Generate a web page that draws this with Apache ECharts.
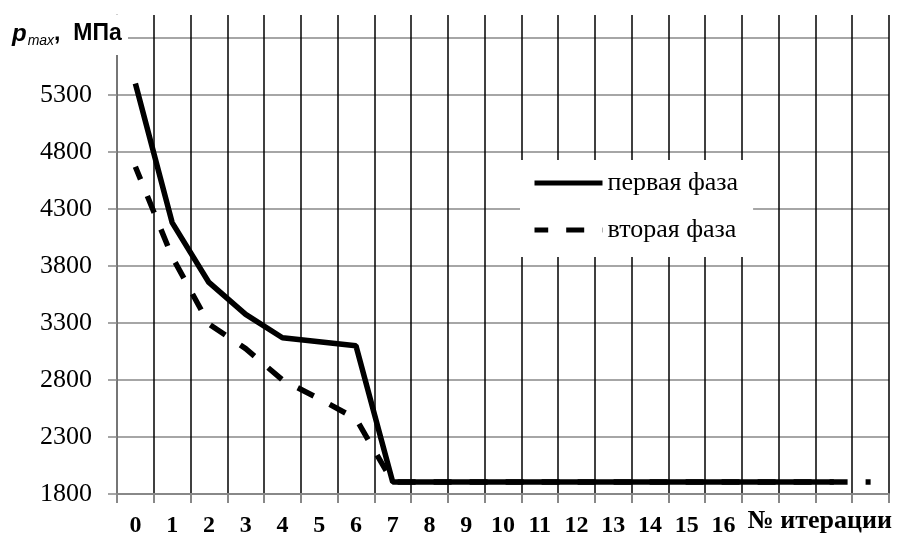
<!DOCTYPE html>
<html>
<head>
<meta charset="utf-8">
<script src="https://cdn.jsdelivr.net/npm/echarts@6/dist/echarts.min.js"></script>
<style>
html,body{margin:0;padding:0;background:#fff;}
#chart{width:897px;height:536px;}
</style>
</head>
<body>
<div id="chart"></div>
<script>
// ---- data ----
const categories = ['0','1','2','3','4','5','6','7','8','9','10','11','12','13','14','15','16','','','',''];
const phase1 = [5400, 4180, 3655, 3375, 3170, 3135, 3100, 1905, 1905, 1905, 1905, 1905, 1905, 1905, 1905, 1905, 1905, 1905, 1905, 1905, null];
const phase2 = [4670, 3880, 3290, 3075, 2800, 2635, 2460, 1905, 1905, 1905, 1905, 1905, 1905, 1905, 1905, 1905, 1905, 1905, 1905, 1905, 1905];
const yTicks = [1800, 2300, 2800, 3300, 3800, 4300, 4800, 5300, 5800];
const yLabels = [1800, 2300, 2800, 3300, 3800, 4300, 4800, 5300];
const seriesNames = ['первая фаза', 'вторая фаза'];
const xName = '№ итерации';

const chart = echarts.init(document.getElementById('chart'), null, {renderer: 'canvas'});
const serif = 'Liberation Serif';
const sans = 'Liberation Sans';

chart.setOption({
  animation: false,
  backgroundColor: '#fff',
  color: ['#000', '#000'],
  grid: {left: 117, right: 8, top: 15, bottom: 42, containLabel: false, outerBoundsMode: 'none'},
  legend: {
    orient: 'vertical',
    left: 520, top: 160,
    backgroundColor: '#fff',
    padding: [9, 15, 13, 12],
    itemWidth: 68, itemHeight: 14, itemGap: 19,
    data: seriesNames,
    itemStyle: {opacity: 0},
    lineStyle: {width: 5, color: '#000'},
    textStyle: {fontFamily: serif, fontSize: 26, color: '#000', lineHeight: 28}
  },
  xAxis: {
    type: 'category',
    data: categories,
    boundaryGap: true,
    name: xName,
    nameLocation: 'end',
    nameGap: 3,
    nameTextStyle: {fontFamily: serif, fontWeight: 'bold', fontSize: 26, color: '#000', align: 'right', verticalAlign: 'top', padding: [14, 0, 0, 0]},
    axisLine: {lineStyle: {color: '#888', width: 2}},
    axisTick: {show: true, interval: 0, length: 9, lineStyle: {color: '#888', width: 2}},
    axisLabel: {interval: 0, margin: 20, fontFamily: serif, fontWeight: 'bold', fontSize: 24, color: '#000'},
    splitLine: {show: true, interval: 0, lineStyle: {color: '#000', width: 1.5}}
  },
  yAxis: {
    type: 'value',
    min: 1800, max: 6000,
    axisLine: {show: true, lineStyle: {color: '#888', width: 1.5}},
    axisTick: {show: true, length: 9, customValues: yTicks, lineStyle: {color: '#888', width: 1.5}},
    axisLabel: {customValues: yLabels, margin: 25, fontFamily: serif, fontSize: 26, color: '#000',
      formatter: function (v) { return String(v); }},
    splitLine: {show: true, lineStyle: {color: '#888', width: 1.5}}
  },
  graphic: [
    {type: 'rect', left: 0, top: 15, shape: {width: 128, height: 40}, style: {fill: '#fff'}, z: 100},
    {type: 'text', left: 12, top: 22, z: 101,
     style: {
       text: '{p|p}{m|max}{n|,  МПа}',
       rich: {
         p: {fontFamily: sans, fontSize: 24, fontWeight: 'bold', fontStyle: 'italic', fill: '#000', lineHeight: 28},
         m: {fontFamily: sans, fontSize: 14, fontStyle: 'italic', fill: '#000', verticalAlign: 'bottom', lineHeight: 28, padding: [0, 0, 0, 1]},
         n: {fontFamily: sans, fontSize: 23, fontWeight: 'bold', fill: '#000', lineHeight: 28}
       }
     }}
  ],
  series: [
    {
      name: seriesNames[1], type: 'line', data: phase2, symbol: 'none', z: 2,
      itemStyle: {color: '#000'},
      lineStyle: {color: '#000', width: 5.5, type: [18, 18], dashOffset: 4.3}
    },
    {
      name: seriesNames[0], type: 'line', data: phase1, symbol: 'none', z: 3,
      itemStyle: {color: '#000'},
      lineStyle: {color: '#000', width: 5.5, type: 'solid'}
    }
  ]
});
</script>
</body>
</html>
